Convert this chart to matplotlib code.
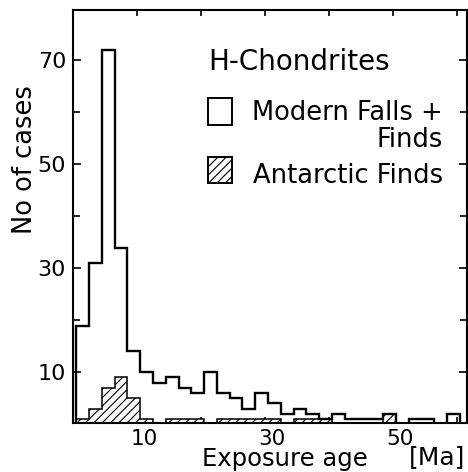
import numpy as np
import matplotlib.pyplot as plt
from matplotlib.patches import Rectangle
from matplotlib.transforms import ScaledTranslation

plt.rcParams['font.family'] = ['DejaVu Sans']
plt.rcParams['hatch.linewidth'] = 0.8

#%% data (2 Ma bins)
bin_edges = np.arange(0.5, 63.0, 2.0)
modern = [19, 31, 72, 34, 14, 10, 8, 9, 7, 6,
          10, 6, 5, 3, 6, 4, 2, 3, 2, 1,
          2, 1, 1, 1, 2, 0, 1, 1, 0, 2, 0]
antarctic = [1, 3, 7, 9, 5, 1, 0, 1, 1, 1,
             0, 1, 1, 1, 1, 1, 0, 1, 1, 1,
             0, 0, 0, 0, 2, 0, 0, 0, 0, 0, 0]

x_ticks = [10, 20, 30, 40, 50, 60]
x_ticklabels = ['10', '', '30', '', '50', '']
y_major = [10, 30, 50, 70]
y_minor = [20, 40, 60]

#%% figure
fig = plt.figure(figsize=(4.68, 4.72), dpi=100)
ax = fig.add_axes([73/468, 1 - 422.7/472, 394/468, 412.7/472])

ax.stairs(antarctic, bin_edges, baseline=0, fill=True, facecolor='white',
          edgecolor='black', hatch='////', lw=1.1, zorder=2)
ax.stairs(modern, bin_edges, baseline=0, color='black', lw=1.7, zorder=3)

ax.set_xlim(0, 61.6)
ax.set_ylim(0.3, 79.7)

ax.set_xticks(x_ticks)
ax.set_xticklabels(x_ticklabels)
ax.set_yticks(y_major)
ax.set_yticks(y_minor, minor=True)
ax.tick_params(which='both', direction='in', top=True, right=True, width=1.2)
ax.tick_params(axis='y', which='major', length=6, pad=5, labelsize=16)
ax.tick_params(axis='y', which='minor', length=5)
ax.tick_params(axis='x', length=4, pad=4.5, labelsize=15.5)
for lab in ax.get_xticklabels():
    lab.set_transform(lab.get_transform() + ScaledTranslation(0.07, 0, fig.dpi_scale_trans))

for s in ax.spines.values():
    s.set_linewidth(1.5)

ax.set_ylabel('No of cases', fontsize=18.5, va='center')
ax.yaxis.set_label_coords(-0.122, 0.637)
ax.set_xlabel('Exposure age', fontsize=17.5, va='baseline')
ax.xaxis.set_label_coords(0.538, -0.105)
ax.text(1.0 - 30/394, -0.100, '[Ma]', transform=ax.transAxes, fontsize=18,
        ha='center', va='baseline')

# legend
ax.text(0.343, 0.855, 'H-Chondrites', transform=ax.transAxes, fontsize=20,
        va='baseline')
ax.add_patch(Rectangle((0.343, 0.721), 0.061, 0.065, transform=ax.transAxes,
                       facecolor='white', edgecolor='black', lw=1.4))
ax.text(0.454, 0.668, 'Modern Falls +\nFinds', transform=ax.transAxes,
        fontsize=18.5, va='baseline', ha='left', multialignment='right',
        linespacing=1.05)
ax.add_patch(Rectangle((0.343, 0.581), 0.061, 0.063, transform=ax.transAxes,
                       facecolor='white', edgecolor='black', lw=1.4, hatch='////'))
ax.text(0.457, 0.581, 'Antarctic Finds', transform=ax.transAxes, fontsize=18.5,
        va='baseline')

fig.savefig('out.png', dpi=100)
